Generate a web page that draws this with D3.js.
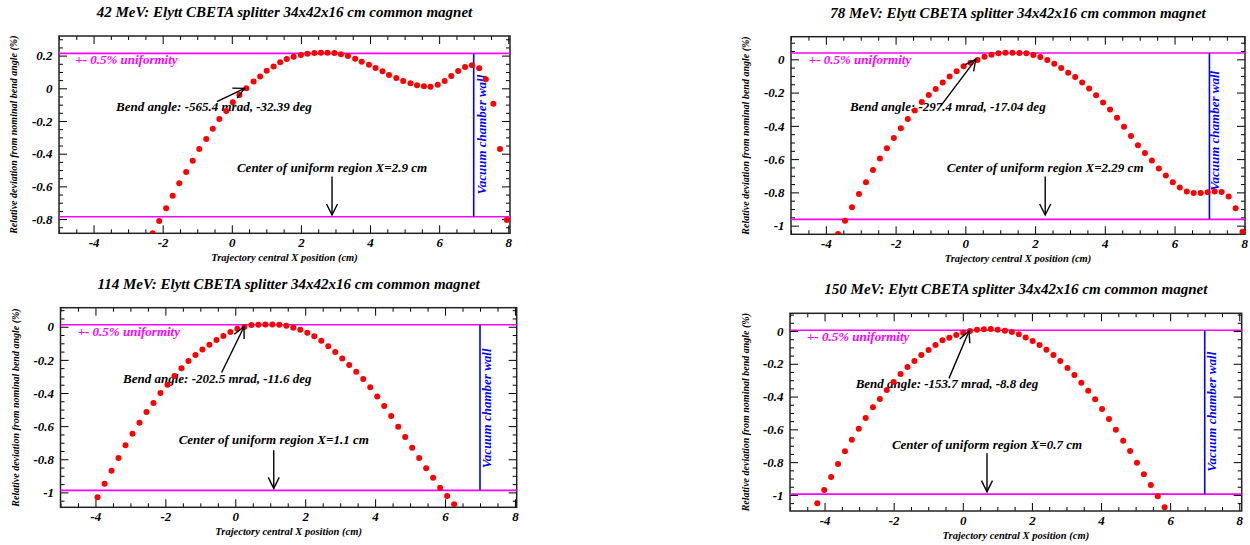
<!DOCTYPE html>
<html>
<head>
<meta charset="utf-8">
<script src="https://cdn.jsdelivr.net/npm/d3@7/dist/d3.min.js"></script>
<style>
body { margin: 0; background: #fff; }
svg text { font-family: "Liberation Serif", "Times New Roman", serif; font-weight: bold; font-style: italic; }
</style>
</head>
<body>
<svg id="chart" width="1250" height="545"></svg>
<script>
// beam energies (MeV) of the four runs
var energies = [42, 78, 114, 150];
var bend_labels = [
    "Bend angle: -565.4 mrad, -32.39 deg",
    "Bend angle: -297.4 mrad, -17.04 deg",
    "Bend angle: -202.5 mrad, -11.6 deg",
    "Bend angle: -153.7 mrad, -8.8 deg"
];
var centers = [2.9, 2.29, 1.1, 0.7];          // center of uniform region (cm)
var band_top = [0.214, 0.038, 0.012, 0.005];  // upper edge of the +-0.5% band
var band_width = 1.0;
var wall_x = 7;

// axis ranges
var x_min = -5;
var x_max = [8.05, 8.02, 8.05, 8.07];
var y_min = [-0.887, -1.052, -1.09, -1.098];
var y_max = [0.32, 0.136, 0.115, 0.108];

// trajectory central X (cm) / relative deviation (%)
var x42 = [-2.29,-2.10,-1.90,-1.71,-1.52,-1.32,-1.13,-0.94,-0.74,-0.55,-0.36,-0.16,0.03,0.22,0.42,0.63,0.82,1.01,1.21,1.40,1.59,1.79,2.00,2.19,2.39,2.58,2.77,2.97,3.16,3.36,3.57,3.76,3.97,4.16,4.36,4.55,4.76,4.96,5.17,5.36,5.56,5.75,5.96,6.16,6.35,6.55,6.75,6.95,7.16,7.35,7.57,7.76,7.96];
var y42 = [-0.887,-0.812,-0.734,-0.657,-0.581,-0.512,-0.443,-0.371,-0.310,-0.247,-0.188,-0.139,-0.086,-0.041,0.000,0.041,0.073,0.108,0.134,0.159,0.179,0.193,0.204,0.212,0.216,0.218,0.218,0.216,0.208,0.198,0.181,0.163,0.144,0.124,0.104,0.081,0.063,0.045,0.031,0.018,0.012,0.010,0.022,0.045,0.075,0.106,0.130,0.141,0.122,0.055,-0.094,-0.371,-0.806];

var x78 = [-3.65,-3.45,-3.25,-3.05,-2.85,-2.65,-2.45,-2.25,-2.05,-1.85,-1.65,-1.45,-1.25,-1.05,-0.85,-0.65,-0.45,-0.25,-0.05,0.15,0.35,0.55,0.75,0.95,1.15,1.35,1.55,1.75,1.95,2.15,2.35,2.55,2.75,2.95,3.15,3.35,3.55,3.75,3.95,4.15,4.35,4.55,4.75,4.95,5.15,5.35,5.55,5.75,5.95,6.15,6.35,6.55,6.75,6.95,7.15,7.35,7.55,7.75,7.95];
var y78 = [-1.050,-0.970,-0.890,-0.809,-0.739,-0.665,-0.597,-0.535,-0.473,-0.415,-0.359,-0.307,-0.257,-0.215,-0.178,-0.140,-0.104,-0.072,-0.042,-0.020,-0.004,0.016,0.028,0.036,0.040,0.040,0.038,0.036,0.026,0.014,-0.004,-0.026,-0.052,-0.080,-0.106,-0.140,-0.176,-0.216,-0.259,-0.302,-0.351,-0.405,-0.461,-0.517,-0.563,-0.609,-0.657,-0.699,-0.739,-0.771,-0.795,-0.803,-0.803,-0.799,-0.795,-0.797,-0.825,-0.895,-1.036];

var x114 = [-3.94,-3.74,-3.54,-3.34,-3.14,-2.94,-2.74,-2.54,-2.34,-2.14,-1.94,-1.74,-1.54,-1.34,-1.14,-0.94,-0.74,-0.54,-0.34,-0.14,0.06,0.26,0.46,0.66,0.86,1.06,1.26,1.46,1.66,1.86,2.06,2.26,2.46,2.66,2.86,3.06,3.26,3.46,3.66,3.86,4.06,4.26,4.46,4.66,4.86,5.06,5.26,5.46,5.66,5.86,6.06,6.26];
var y114 = [-1.030,-0.948,-0.869,-0.793,-0.716,-0.646,-0.579,-0.515,-0.461,-0.400,-0.350,-0.298,-0.251,-0.207,-0.171,-0.137,-0.109,-0.080,-0.056,-0.032,-0.012,-0.002,0.010,0.012,0.014,0.014,0.012,0.006,-0.006,-0.018,-0.036,-0.058,-0.085,-0.117,-0.153,-0.191,-0.231,-0.272,-0.316,-0.366,-0.421,-0.479,-0.539,-0.604,-0.666,-0.730,-0.793,-0.855,-0.911,-0.972,-1.022,-1.072];

var x150 = [-4.21,-4.01,-3.81,-3.61,-3.41,-3.21,-3.01,-2.81,-2.60,-2.40,-2.20,-2.00,-1.80,-1.60,-1.40,-1.20,-0.99,-0.79,-0.59,-0.39,-0.19,0.01,0.21,0.41,0.61,0.81,1.01,1.22,1.42,1.62,1.82,2.02,2.22,2.42,2.62,2.82,3.03,3.23,3.43,3.63,3.83,4.03,4.23,4.43,4.64,4.84,5.04,5.24,5.44,5.64,5.84];
var y150 = [-1.051,-0.970,-0.890,-0.811,-0.734,-0.663,-0.596,-0.530,-0.465,-0.415,-0.360,-0.311,-0.262,-0.220,-0.183,-0.146,-0.116,-0.085,-0.057,-0.041,-0.024,-0.010,0.000,0.008,0.010,0.012,0.008,0.002,-0.006,-0.020,-0.039,-0.061,-0.085,-0.114,-0.146,-0.183,-0.226,-0.268,-0.315,-0.364,-0.417,-0.476,-0.537,-0.602,-0.669,-0.732,-0.803,-0.874,-0.939,-1.008,-1.075];

var x_series = [x42, x78, x114, x150];
var y_series = [y42, y78, y114, y150];

// frame boxes in pixels + where the annotations sit (data coords)
var frames = [
    {left: 59, right: 510, top: 36, bottom: 233.3},
    {left: 791, right: 1245, top: 36.7, bottom: 234.3},
    {left: 60.5, right: 516.7, top: 307.7, bottom: 507.3},
    {left: 790, right: 1241.7, top: 313.3, bottom: 511}
];
var notes = [
    {unif: [-4.53, 0.149], bend: [-3.35, -0.139], arrow: [-0.43, -0.082, 0.37, 0.0], ctext: -0.51, carrow: [-0.54, -0.775], wall: [7.35, -0.65], ylab: 17},
    {unif: [-4.49, -0.028], bend: [-3.31, -0.311], arrow: [-0.71, -0.281, 0.30, 0.0], ctext: -0.675, carrow: [-0.705, -0.936], wall: [7.27, -0.79], ylab: 749},
    {unif: [-4.51, -0.054], bend: [-3.21, -0.342], arrow: [-0.39, -0.276, 0.25, 0.0], ctext: -0.71, carrow: [-0.745, -0.976], wall: [7.31, -0.855], ylab: 19},
    {unif: [-4.51, -0.059], bend: [-3.10, -0.346], arrow: [-0.40, -0.289, 0.18, 0.0], ctext: -0.72, carrow: [-0.746, -0.98], wall: [7.32, -0.858], ylab: 749}
];

var svg = d3.select("#chart");

var defs = svg.append("defs");
defs.append("marker")
    .attr("id", "head")
    .attr("viewBox", "-14 -8 16 16")
    .attr("refX", 0).attr("refY", 0)
    .attr("markerWidth", 16).attr("markerHeight", 16)
    .attr("markerUnits", "userSpaceOnUse")
    .attr("orient", "auto")
    .append("path")
    .attr("d", "M-11,-5.5L0,0L-11,5.5")
    .attr("fill", "none")
    .attr("stroke", "#000")
    .attr("stroke-width", 1.4);

function fmt(d) {
    return (Math.round(d * 10) / 10).toString();
}

function style_axis(sel, labels) {
    sel.select(".domain").remove();
    sel.selectAll(".tick line").attr("stroke", "#000");
    sel.selectAll("text")
        .attr("fill", "#000")
        .style("font-size", labels ? "13px" : "0px");
    sel.attr("font-family", null).attr("font-size", null);
}

function draw_panel(i) {
    var f = frames[i], n = notes[i];
    var g = svg.append("g");

    var x = d3.scaleLinear().domain([x_min, x_max[i]]).range([f.left, f.right]);
    var y = d3.scaleLinear().domain([y_min[i], y_max[i]]).range([f.bottom, f.top]);

    var xMajor = [-4, -2, 0, 2, 4, 6, 8];
    var xMinor = d3.range(-10, 17).map(function(k) { return k * 0.5; })
        .filter(function(v) { return v >= x_min && v <= x_max[i] && xMajor.indexOf(v) < 0; });
    var yMajor = d3.range(-5, 2).map(function(k) { return k * 0.2; })
        .filter(function(v) { return v >= y_min[i] && v <= y_max[i]; });
    var yMinor = d3.range(-22, 8).map(function(k) { return k * 0.05; })
        .filter(function(v) { return v >= y_min[i] && v <= y_max[i] && Math.abs(Math.round(v / 0.2) * 0.2 - v) > 1e-6; });

    // ticks on all four sides, pointing inward
    g.append("g").attr("transform", "translate(0," + f.bottom + ")")
        .call(d3.axisBottom(x).tickValues(xMajor).tickSize(-8).tickPadding(4.5).tickFormat(fmt))
        .call(style_axis, true);
    g.append("g").attr("transform", "translate(0," + f.bottom + ")")
        .call(d3.axisBottom(x).tickValues(xMinor).tickSize(-4).tickFormat(""))
        .call(style_axis, false);
    g.append("g").attr("transform", "translate(0," + f.top + ")")
        .call(d3.axisTop(x).tickValues(xMajor).tickSize(-8).tickFormat(""))
        .call(style_axis, false);
    g.append("g").attr("transform", "translate(0," + f.top + ")")
        .call(d3.axisTop(x).tickValues(xMinor).tickSize(-4).tickFormat(""))
        .call(style_axis, false);
    g.append("g").attr("transform", "translate(" + f.left + ",0)")
        .call(d3.axisLeft(y).tickValues(yMajor).tickSize(-8).tickPadding(6.5).tickFormat(fmt))
        .call(style_axis, true);
    g.append("g").attr("transform", "translate(" + f.left + ",0)")
        .call(d3.axisLeft(y).tickValues(yMinor).tickSize(-4).tickFormat(""))
        .call(style_axis, false);
    g.append("g").attr("transform", "translate(" + f.right + ",0)")
        .call(d3.axisRight(y).tickValues(yMajor).tickSize(-8).tickFormat(""))
        .call(style_axis, false);
    g.append("g").attr("transform", "translate(" + f.right + ",0)")
        .call(d3.axisRight(y).tickValues(yMinor).tickSize(-4).tickFormat(""))
        .call(style_axis, false);

    g.append("rect")
        .attr("x", f.left).attr("y", f.top)
        .attr("width", f.right - f.left).attr("height", f.bottom - f.top)
        .attr("fill", "none").attr("stroke", "#222").attr("stroke-width", 1.5);

    // titles
    var cx = (f.left + f.right) / 2;
    g.append("text").attr("x", cx).attr("y", f.top - 19)
        .attr("text-anchor", "middle").style("font-size", "15px")
        .text(energies[i] + " MeV: Elytt CBETA splitter 34x42x16 cm common magnet");
    g.append("text").attr("x", cx).attr("y", f.bottom + 27.5)
        .attr("text-anchor", "middle").style("font-size", "10.5px")
        .text("Trajectory central X position (cm)");
    g.append("text")
        .attr("transform", "translate(" + n.ylab + "," + ((f.top + f.bottom) / 2) + ") rotate(-90)")
        .attr("text-anchor", "middle").style("font-size", "10px")
        .text("Relative deviation from nominal bend angle (%)");

    // +-0.5% band
    [band_top[i], band_top[i] - band_width].forEach(function(v) {
        g.append("line")
            .attr("x1", f.left).attr("x2", f.right)
            .attr("y1", y(v)).attr("y2", y(v))
            .attr("stroke", "#ff00ff").attr("stroke-width", 1.6);
    });
    g.append("line")
        .attr("x1", x(wall_x)).attr("x2", x(wall_x))
        .attr("y1", y(band_top[i])).attr("y2", y(band_top[i] - band_width))
        .attr("stroke", "#0000ff").attr("stroke-width", 1.6);

    g.append("text").attr("x", x(n.unif[0])).attr("y", y(n.unif[1]))
        .attr("fill", "#ff00ff").style("font-size", "13px")
        .text("+- 0.5% uniformity");
    g.append("text").attr("x", x(n.bend[0])).attr("y", y(n.bend[1]))
        .style("font-size", "13px")
        .text(bend_labels[i]);
    g.append("text").attr("x", x(centers[i])).attr("y", y(n.ctext))
        .attr("text-anchor", "middle").style("font-size", "13px")
        .text("Center of uniform region X=" + centers[i] + " cm");
    g.append("text")
        .attr("transform", "translate(" + x(n.wall[0]) + "," + y(n.wall[1]) + ") rotate(-90)")
        .attr("fill", "#0000ff").style("font-size", "13px")
        .text("Vacuum chamber wall");

    // data points, clipped to the frame
    defs.append("clipPath").attr("id", "clip" + i)
        .append("rect")
        .attr("x", f.left).attr("y", f.top)
        .attr("width", f.right - f.left).attr("height", f.bottom - f.top);

    var pts = x_series[i].map(function(v, k) { return {x: v, y: y_series[i][k]}; });
    g.append("g").attr("clip-path", "url(#clip" + i + ")")
        .selectAll("circle")
        .data(pts)
        .enter().append("circle")
        .attr("cx", function(d) { return x(d.x); })
        .attr("cy", function(d) { return y(d.y); })
        .attr("r", 3)
        .attr("fill", "#ff0000");

    // arrows
    g.append("line")
        .attr("x1", x(n.arrow[0])).attr("y1", y(n.arrow[1]))
        .attr("x2", x(n.arrow[2])).attr("y2", y(n.arrow[3]))
        .attr("stroke", "#000").attr("stroke-width", 1.4)
        .attr("marker-end", "url(#head)");
    g.append("line")
        .attr("x1", x(centers[i])).attr("y1", y(n.carrow[0]))
        .attr("x2", x(centers[i])).attr("y2", y(n.carrow[1]))
        .attr("stroke", "#000").attr("stroke-width", 1.4)
        .attr("marker-end", "url(#head)");
}

for (var i = 0; i < energies.length; i++) {
    draw_panel(i);
}
</script>
</body>
</html>
